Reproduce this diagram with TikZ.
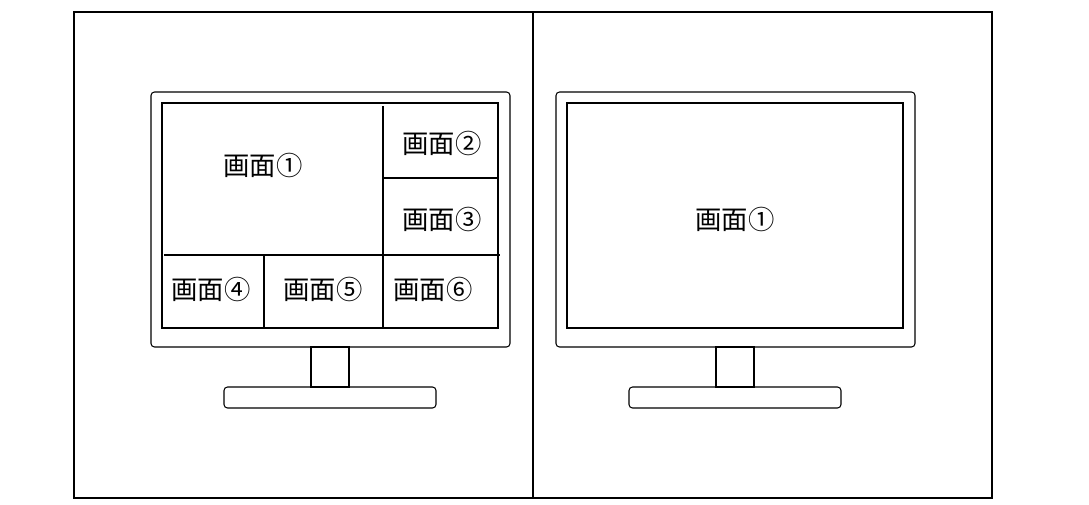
\documentclass[tikz,border=0pt]{standalone}
\usepackage{fontspec}
\newfontfamily\cjk{Noto Sans CJK JP}
\begin{document}
\begin{tikzpicture}[x=0.02cm,y=-0.02cm,line width=0.6pt,
  lbl/.style={font=\cjk\fontsize{15}{15}\selectfont,inner sep=0pt},
  rr/.style={draw,rounded corners=2pt}]
\useasboundingbox (0,0) rectangle (1089,504);
\draw (74,12) rectangle (992,498);
\draw (533,12) -- (533,498);
% left monitor
\draw[rr] (151,92) rectangle (510,347);
\draw (162,103) rectangle (498,328);
\draw (383,106) -- (383,328);
\draw (383,178) -- (498,178);
\draw (164,255) -- (500,255);
\draw (264,255) -- (264,328);
\draw (311,347) rectangle (349,387);
\draw[rr] (224,387) rectangle (436,408);
\node[lbl] (l1) at (263,165) {画面①};
\node[lbl] (l2) at (442,143) {画面②};
\node[lbl] (l3) at (442,219) {画面③};
\node[lbl] (l4) at (211,289) {画面④};
\node[lbl] (l5) at (323,289) {画面⑤};
\node[lbl] (l6) at (433,289) {画面⑥};
% right monitor
\draw[rr] (556,92) rectangle (915,347);
\draw (567,103) rectangle (903,328);
\draw (716,347) rectangle (754,387);
\draw[rr] (629,387) rectangle (841,408);
\node[lbl] (r1) at (735,219) {画面①};
\end{tikzpicture}
\end{document}
